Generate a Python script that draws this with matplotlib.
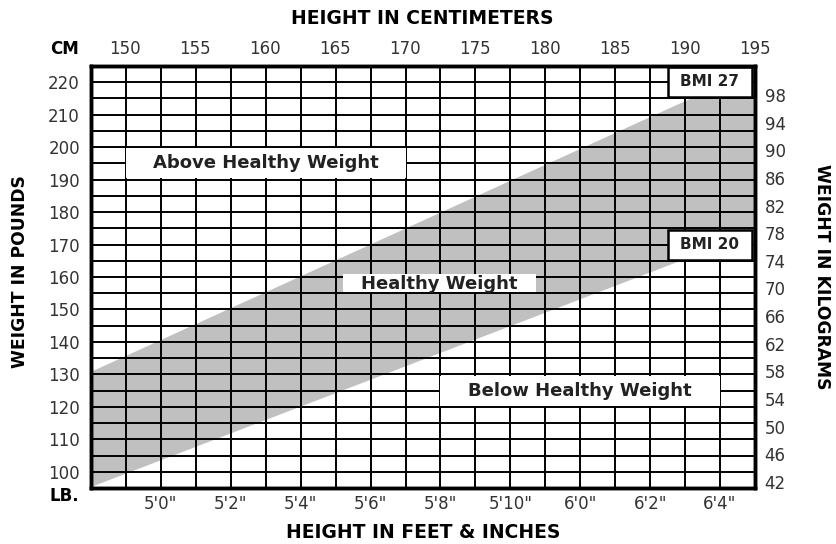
import matplotlib
matplotlib.use("Agg")
import matplotlib.pyplot as plt
from matplotlib.patches import Rectangle

plt.rcParams['font.family'] = ['DejaVu Sans']

# ===============================
# DATA
# ===============================
height_in = [58, 77]                 # left / right edge of the chart, inches
bmi20_lb = [95.5, 174.0]             # lower edge of the healthy band
bmi27_lb = [131.0, 224.2]            # upper edge of the healthy band

ft_ticks = [60, 62, 64, 66, 68, 70, 72, 74, 76]
ft_labels = ["5'0\"", "5'2\"", "5'4\"", "5'6\"", "5'8\"",
             "5'10\"", "6'0\"", "6'2\"", "6'4\""]
lb_ticks = [100, 110, 120, 130, 140, 150, 160, 170, 180, 190, 200, 210, 220]
kg_ticks = [42, 46, 50, 54, 58, 62, 66, 70, 74, 78, 82, 86, 90, 94, 98]
cm_ticks = [150, 155, 160, 165, 170, 175, 180, 185, 190, 195]

W, H = 837, 544


def fx(px):
    return px / W


def fy(py):
    return 1 - py / H


fig = plt.figure(figsize=(W / 100, H / 100), dpi=100)
ax = fig.add_axes([fx(91), fy(488), (755 - 91) / W, (488 - 66) / H])

# ---- band ----
ax.fill_between(height_in, bmi20_lb, bmi27_lb, color='#c0c0c0', lw=0, zorder=1)

ax.set_xlim(58, 77)
ax.set_ylim(95, 225)
ax.set_xticks(ft_ticks)
ax.set_xticklabels(ft_labels)
ax.set_xticks(range(58, 78), minor=True)
ax.set_yticks(lb_ticks)
ax.set_yticks(range(95, 226, 5), minor=True)
ax.grid(which='both', color='black', lw=1.4)
ax.set_axisbelow(False)
ax.tick_params(which='both', length=0)
ax.tick_params(axis='x', pad=5, labelsize=12, labelcolor='#333333')
ax.tick_params(axis='y', pad=8, labelsize=12, labelcolor='#333333')
for sp in ax.spines.values():
    sp.set_linewidth(2.4)

# ---- kilograms (right) ----
ax_kg = ax.twinx()
ax_kg.set_ylim(41.1, 102.2)
ax_kg.set_yticks(kg_ticks)
ax_kg.tick_params(length=0, pad=7, labelsize=12, labelcolor='#333333')

# ---- centimeters (top) ----
ax_cm = ax.twiny()
ax_cm.set_xlim(147.57, 195)
ax_cm.set_xticks(cm_ticks)
ax_cm.tick_params(length=0, pad=6, labelsize=12, labelcolor='#333333')
for a in (ax_kg, ax_cm):
    for sp in a.spines.values():
        sp.set_linewidth(2.4)

# ---- region labels ----
lab = dict(fontsize=13, fontweight='bold', color='#222222',
           ha='center', va='center', zorder=5)
ax.add_patch(Rectangle((59, 190.4), 8, 9.2, fc='white', ec='none', zorder=3))
ax.text(63, 195, "Above Healthy Weight", **lab)
ax.add_patch(Rectangle((65.2, 155.3), 5.54, 5.6, fc='white', ec='none', zorder=3))
ax.text(67.97, 157.9, "Healthy Weight", **lab)
ax.add_patch(Rectangle((68, 120.4), 8, 9.2, fc='white', ec='none', zorder=3))
ax.text(72, 125, "Below Healthy Weight", **lab)

bmi = dict(fontsize=11, fontweight='bold', color='#222222',
           ha='center', va='center', zorder=5)
ax.add_patch(Rectangle((74.5, 215.5), 2.4, 9.1, fc='white', ec='black',
                       lw=1.8, zorder=4))
ax.text(75.7, 220.1, "BMI 27", **bmi)
ax.add_patch(Rectangle((74.5, 165.3), 2.4, 9.2, fc='white', ec='black',
                       lw=1.8, zorder=4))
ax.text(75.7, 169.9, "BMI 20", **bmi)

# ---- axis titles ----
ttl = dict(fontweight='bold', color='black', ha='center', va='center')
fig.text(fx(422), fy(18), "HEIGHT IN CENTIMETERS", fontsize=13.5, **ttl)
fig.text(fx(423), fy(532), "HEIGHT IN FEET & INCHES", fontsize=13.5, **ttl)
fig.text(fx(20), fy(272), "WEIGHT IN POUNDS", fontsize=12.3, rotation=90, **ttl)
fig.text(fx(822), fy(277), "WEIGHT IN KILOGRAMS", fontsize=12.3, rotation=270, **ttl)
fig.text(fx(65), fy(49), "CM", fontsize=12, **ttl)
fig.text(fx(64), fy(496), "LB.", fontsize=12, **ttl)

fig.savefig("out.png", dpi=100)
